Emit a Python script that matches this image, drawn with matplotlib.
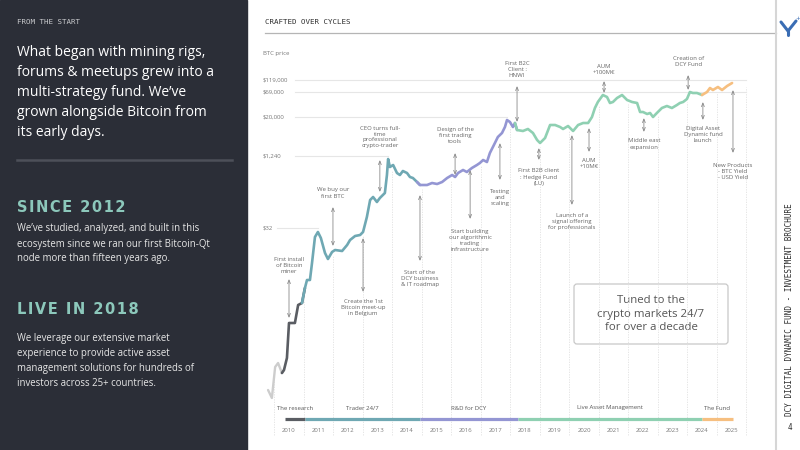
import numpy as np
import matplotlib
matplotlib.use('Agg')
import matplotlib.pyplot as plt
from matplotlib.patches import Rectangle, FancyBboxPatch

# BTC curve (year, height of the line on the chart)
curve_years = [2009.29, 2009.42, 2009.53, 2009.63, 2009.76, 2009.83, 2009.93, 2010.00, 2010.20, 2010.31,
               2010.44, 2010.54, 2010.61, 2010.71, 2010.78, 2010.88, 2010.98, 2011.08, 2011.22, 2011.32,
               2011.46, 2011.56, 2011.80, 2011.97, 2012.07, 2012.24, 2012.41, 2012.51, 2012.64, 2012.75,
               2012.85, 2012.98, 2013.08, 2013.25, 2013.32, 2013.36, 2013.42, 2013.53, 2013.66, 2013.76,
               2013.86, 2014.00, 2014.10, 2014.20, 2014.34, 2014.44, 2014.68, 2014.85, 2015.02, 2015.19,
               2015.36, 2015.53, 2015.63, 2015.73, 2015.90, 2016.03, 2016.20, 2016.37, 2016.47, 2016.58,
               2016.71, 2016.81, 2016.98, 2017.08, 2017.22, 2017.32, 2017.39, 2017.49, 2017.59, 2017.66,
               2017.73, 2017.93, 2018.10, 2018.27, 2018.41, 2018.51, 2018.68, 2018.85, 2019.02, 2019.19,
               2019.29, 2019.46, 2019.63, 2019.80, 2019.97, 2020.14, 2020.27, 2020.37, 2020.47, 2020.64,
               2020.78, 2020.88, 2020.98, 2021.12, 2021.29, 2021.46, 2021.63, 2021.80, 2021.90, 2022.00,
               2022.14, 2022.24, 2022.34, 2022.47, 2022.64, 2022.81, 2022.98, 2023.15, 2023.25, 2023.36,
               2023.49, 2023.59, 2023.69, 2023.83, 2024.00, 2024.17, 2024.27, 2024.37, 2024.54, 2024.68,
               2024.85, 2025.02]
curve_heights = [60, 52, 83, 87, 77, 80, 92, 127, 127, 145,
                 147, 162, 170, 170, 187, 213, 218, 212, 197, 191,
                 198, 200, 199, 205, 210, 214, 215, 218, 233, 250,
                 253, 248, 252, 257, 275, 291, 283, 285, 277, 275,
                 279, 277, 273, 272, 268, 265, 265, 267, 266, 268,
                 272, 275, 273, 277, 280, 278, 282, 285, 287, 290,
                 288, 297, 307, 313, 317, 323, 330, 328, 323, 327,
                 320, 319, 321, 317, 310, 307, 312, 325, 325, 323,
                 321, 324, 319, 325, 327, 327, 333, 342, 348, 355,
                 353, 347, 348, 352, 355, 350, 348, 347, 338, 338,
                 336, 337, 333, 337, 342, 344, 342, 345, 347, 348,
                 351, 358, 357, 357, 355, 358, 362, 360, 363, 360,
                 364, 367]

# phases (timeline bar + curve colour)
phase_names = ['The research', 'Trader 24/7', 'R&D for DCY', 'Live Asset Management', 'The Fund']
phase_starts = [2009.87, 2010.55, 2014.45, 2017.75, 2024.0]
phase_ends = [2010.55, 2014.45, 2017.75, 2024.0, 2025.05]
phase_colors = ['#5a5d63', '#6fa8b3', '#9496d3', '#8fd0b2', '#f6bf80']

# price reference levels
price_labels = ['$119,000', '$69,000', '$20,000', '$1,240', '$32']
price_heights = [370, 358, 333, 294, 222]
price_line_ends = [2025.5, 2025.5, 2017.39, 2013.36, 2010.98]

year_ticks = list(range(2010, 2026))

# milestones
event_texts = ['First install\nof Bitcoin\nminer', 'We buy our\nfirst BTC',
               'CEO turns full-\ntime\nprofessional\ncrypto-trader',
               'Create the 1st\nBitcoin meet-up\nin Belgium', 'Start of the\nDCY business\n& IT roadmap',
               'Design of the\nfirst trading\ntools',
               'Start building\nour algorithmic\ntrading\ninfrastructure',
               'Testing\nand\nscaling', 'First B2C\nClient :\nHNWI',
               'First B2B client\n: Hedge Fund\n(LU)',
               'Launch of a\nsignal offering\nfor professionals', 'AUM\n+10M€', 'AUM\n+100M€',
               'Middle east\nexpansion', 'Creation of\nDCY Fund',
               'Digital Asset\nDynamic fund\nlaunch', 'New Products\n- BTC Yield\n- USD Yield']
event_years = [2010.0, 2011.49, 2013.08, 2012.51, 2014.44, 2015.63, 2016.14, 2017.15, 2017.73,
               2018.47, 2019.59, 2020.17, 2020.68, 2022.03, 2023.53, 2024.03, 2025.05]
event_text_h = [184.5, 257, 313, 142.5, 171.5, 314.5, 209.5, 252.5, 380.5,
                273, 228.5, 287, 380.5, 306, 388, 315.5, 278.5]
event_arrow_top = [171, 243, 290, 212, 255, 297, 280, 307, 364, 302, 315, 322, 369, 332, 375, 348, 360]
event_arrow_bot = [132, 204, 258, 158, 189, 275, 231, 270, 328, 290, 245, 298, 357, 318, 360, 330, 297]

fig = plt.figure(figsize=(8, 4.5), dpi=100)

# layout layer in pixel coordinates
bg = fig.add_axes([0, 0, 1, 1])
bg.set_xlim(0, 800)
bg.set_ylim(450, 0)
bg.axis('off')
bg.add_patch(Rectangle((0, 0), 247, 450, color='#2b2e37', zorder=0))

mono = 'DejaVu Sans Mono'
sans = 'Open Sans'
bg.text(17, 22, 'FROM THE START', color='#c9cacd', fontsize=5.4, family=mono, va='center')
intro = ['What began with mining rigs,', 'forums & meetups grew into a',
         'multi-strategy fund. We\u2019ve', 'grown alongside Bitcoin from', 'its early days.']
for i, line in enumerate(intro):
    bg.text(17, 53 + 20 * i, line, color='white', fontsize=10.0, family=sans, va='center')
bg.plot([17, 232], [160, 160], color='#4d5059', lw=1.8)

bg.text(17, 207, '\u200a'.join('SINCE 2012'), color='#8cc8bb', fontsize=10.5,
        family='DejaVu Sans', weight='bold', va='center')
para1 = ['We\u2019ve studied, analyzed, and built in this',
         'ecosystem since we ran our first Bitcoin-Qt', 'node more than fifteen years ago.']
for i, line in enumerate(para1):
    bg.text(17, 229 + 15 * i, line, color='#e6e6e6', fontsize=6.9, family=sans, va='center')
bg.text(17, 310, '\u200a'.join('LIVE IN 2018'), color='#8cc8bb', fontsize=10.5,
        family='DejaVu Sans', weight='bold', va='center')
para2 = ['We leverage our extensive market', 'experience to provide active asset',
         'management solutions for hundreds of', 'investors across 25+ countries.']
for i, line in enumerate(para2):
    bg.text(17, 338 + 15.2 * i, line, color='#e6e6e6', fontsize=6.9, family=sans, va='center')

# header of the right part
bg.text(265, 22, 'CRAFTED OVER CYCLES', color='#2e2e2e', fontsize=5.4, family=mono, va='center')
bg.plot([265, 776], [33, 33], color='#b5b5b5', lw=0.9)
bg.text(263, 54, 'BTC price', color='#777777', fontsize=4.3, family=sans, va='center')

# right strip, logo, vertical caption
bg.plot([776, 776], [0, 450], color='#d6d6d6', lw=1.5)
bg.plot([781, 788, 796], [22, 31, 21], color='#3a6db4', lw=2.2, solid_capstyle='round',
        solid_joinstyle='round')
bg.plot([788, 788], [31, 35], color='#3a6db4', lw=2.2, solid_capstyle='round')
bg.text(798, 18, '+', color='#3a6db4', fontsize=4, ha='center', va='center')
bg.text(790, 310, 'DCY DIGITAL DYNAMIC FUND - INVESTMENT BROCHURE', rotation=90,
        color='#2e2e2e', fontsize=5.5, family=mono, ha='center', va='center')
bg.text(790, 427, '4', color='#2e2e2e', fontsize=5.5, family=mono, ha='center', va='center')

# callout box
bg.add_patch(FancyBboxPatch((574, 284), 154, 60, boxstyle='round,pad=0,rounding_size=3',
                            facecolor='white', edgecolor='#c8c8c8', lw=0.9, zorder=5))
bg.text(651, 314, 'Tuned to the\ncrypto markets 24/7\nfor over a decade', color='#555555',
        fontsize=8.2, family=sans, ha='center', va='center', linespacing=1.3, zorder=6)

# chart layer: x in years, y in chart height
ax = fig.add_axes([0, 0, 1, 1])
ax.patch.set_alpha(0)
ax.set_xlim(2010 - 289 / 29.5, 2010 + 511 / 29.5)
ax.set_ylim(0, 450)
ax.axis('off')

cy = np.array(curve_years)
ch = np.array(curve_heights)

# dotted year separators under the curve
for g in np.arange(2009.5, 2026.0, 1.0):
    top = np.interp(g, cy, ch) - 4
    ax.plot([g, g], [15, top], color='#e0e0e0', lw=0.6, ls=(0, (1.5, 1.5)), zorder=1)

# price levels
for lab, h, xe in zip(price_labels, price_heights, price_line_ends):
    xs = 2009.6 if lab == '$32' else 2010.2
    ax.plot([xs, xe], [h, h], color='#e6e6e6', lw=0.8, zorder=1)
    ax.text(2009.12, h, lab, color='#777777', fontsize=4.3, family=sans, va='center')

# curve, coloured by phase
mask = cy <= 2009.87
ax.plot(cy[mask], ch[mask], color='#cdcdcd', lw=1.7, solid_capstyle='round', zorder=3)
edges = [2009.83] + phase_ends
for i, col in enumerate(phase_colors):
    lo, hi = edges[i], edges[i + 1]
    m = (cy >= lo - 0.12) & (cy <= hi + 0.01)
    ax.plot(cy[m], ch[m], color=col, lw=1.9, solid_capstyle='round', solid_joinstyle='round', zorder=3)

# milestones
for txt, x, th, a, b in zip(event_texts, event_years, event_text_h, event_arrow_top, event_arrow_bot):
    ax.annotate('', xy=(x, b), xytext=(x, a),
                arrowprops=dict(arrowstyle='<->,head_length=0.25,head_width=0.1',
                                color='#8a8a8a', lw=0.6, shrinkA=0, shrinkB=0), zorder=4)
    ax.text(x, th, txt, color='#666666', fontsize=4.3, family=sans, ha='center', va='center',
            linespacing=1.25, zorder=4)

# timeline bar
for name, s, e, col in zip(phase_names, phase_starts, phase_ends, phase_colors):
    ax.plot([s, e], [31, 31], color=col, lw=2.3, solid_capstyle='butt', zorder=3)
    ax.text((s + e) / 2, 42, name, color='#555555', fontsize=4.3, family=sans,
            ha='center', va='center')
for y in year_ticks:
    ax.text(y, 20, str(y), color='#7a7a7a', fontsize=4.3, family=sans, ha='center', va='center')

fig.savefig('out.png', dpi=100)
